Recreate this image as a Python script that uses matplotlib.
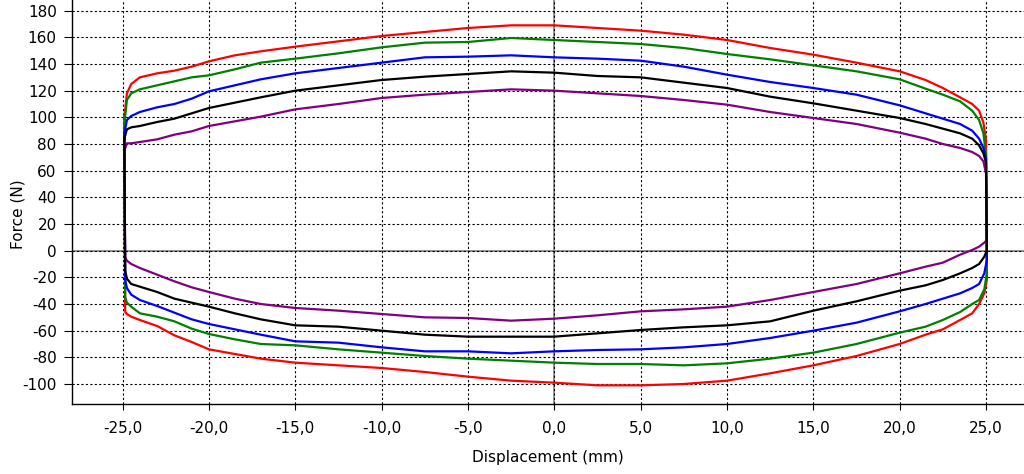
import numpy as np
from matplotlib import pyplot as plt

# displacement grid for the loading (upper) and unloading (lower) branches, mm
x_up = [-24.9, -24.75, -24.5, -24.0, -23.0, -22.0, -21.0, -20.0, -18.5, -17.0, -15.0,
        -12.5, -10.0, -7.5, -5.0, -2.5, 0.0, 2.5, 5.0, 7.5, 10.0, 12.5, 15.0, 17.5,
        20.0, 21.5, 22.5, 23.5, 24.2, 24.6, 24.85, 25.0]
x_down = [25.05, 24.9, 24.6, 24.2, 23.5, 22.5, 21.5, 20.0, 17.5, 15.0, 12.5, 10.0,
          7.5, 5.0, 2.5, 0.0, -2.5, -5.0, -7.5, -10.0, -12.5, -15.0, -17.0, -18.5,
          -20.0, -21.0, -22.0, -23.0, -24.0, -24.5, -24.75, -24.85]

# force (N)
red_up = [100, 118, 125, 130, 133, 135, 138, 142, 146.5, 149.5, 153, 157, 161, 164,
          167, 169, 169, 167, 165, 162, 158, 152, 147, 141, 134.5, 128, 122, 115,
          110, 105, 96, 83]
red_down = [-22, -32, -40, -47, -52, -59, -63, -70, -79, -86, -92, -97.5, -100, -101,
            -101, -99, -97.5, -94.5, -91, -88, -86, -84, -81, -77.5, -74, -68.5, -63.5,
            -56.5, -52, -49.5, -47.5, -46]

green_up = [95, 113, 118, 121, 124, 127, 130, 131.5, 136, 141, 144, 148, 152.5, 156,
            156.5, 159.5, 158, 156.5, 155, 152, 147.5, 143.5, 139, 134.5, 128.5, 121.5,
            117, 112, 105, 98, 88, 72]
green_down = [-17, -29, -37, -40, -46, -52, -57, -61.5, -70, -76.5, -81, -84.5, -86,
              -85, -85, -84, -82.5, -81, -79, -76.5, -74, -71, -70, -66.5, -62.5, -58.5,
              -53, -49.5, -47, -42, -39, -35]

blue_up = [88, 98, 101, 104, 107.5, 110, 114, 119.5, 124, 128.5, 133, 137, 141, 145,
           145.5, 146.5, 145, 144, 142.5, 138, 132, 126.5, 122, 117, 109, 103, 99, 95,
           90, 84, 77, 69]
blue_down = [-7, -17, -25, -28, -32, -36, -40, -45.5, -54, -60, -65.5, -70, -72.5,
             -74, -74.5, -75.5, -77, -75.5, -75.5, -72.5, -69, -68, -63, -59, -55,
             -51.5, -46.5, -41.5, -37, -33, -28, -22]

black_up = [84, 91, 92.5, 93.5, 96.5, 99, 103, 107, 111, 115, 120, 124, 128, 130.5,
            132.5, 134.5, 133.5, 131, 130, 126, 122, 115.5, 110.5, 105, 99.5, 95, 91.5,
            88, 84, 79, 73, 66]
black_down = [0, -4.5, -10, -13, -17, -22, -26, -30, -38, -45, -53, -56, -57.5, -59.5,
              -62, -64.5, -64.5, -64.5, -63, -60, -57, -56, -51.5, -47, -42, -39, -36,
              -31, -27, -25, -21, -15]

purple_up = [75, 80.5, 80.5, 81.5, 83.5, 87, 89.5, 93.5, 97, 100.5, 106, 110, 114.5,
             117, 119, 121, 120, 118, 116, 113, 109.5, 104, 99.5, 95, 88.5, 84, 80, 77,
             74, 71, 67, 58]
purple_down = [8, 6, 3, 0.5, -3, -9, -12, -17, -25, -31, -37, -42, -44, -45.5, -48.5,
               -51, -52.5, -50.5, -50, -47.5, -45, -43, -40, -36, -31, -27.5, -23, -18,
               -13, -10, -7.5, -5]

series = [
    (red_up, red_down, '#ff0000'),
    (green_up, green_down, '#008000'),
    (blue_up, blue_down, '#0000ff'),
    (purple_up, purple_down, '#800080'),
    (black_up, black_down, '#000000'),
]

x_ticks = np.arange(-25, 26, 5)
y_ticks = np.arange(-100, 181, 20)

plt.rcParams['font.family'] = 'DejaVu Sans'
plt.rcParams['font.size'] = 11
plt.rcParams['axes.unicode_minus'] = False

fig = plt.figure(figsize=(10.24, 4.74), dpi=100)
ax = fig.add_axes([72 / 1024, 70 / 474, 952 / 1024, 404 / 474])

ax.axhline(0, color='#808080', lw=1.2, zorder=1)
ax.axvline(0, color='#808080', lw=1.2, zorder=1)

for up, down, col in series:
    xs = list(x_up) + list(x_down) + [x_up[0]]
    ys = list(up) + list(down) + [up[0]]
    ax.plot(xs, ys, color=col, lw=1.6, zorder=3)

ax.set_xlim(-27.93, 27.2)
ax.set_ylim(-115, 188)
ax.set_xticks(x_ticks)
ax.set_xticklabels([f"{v:.1f}".replace('.', ',') for v in x_ticks])
ax.set_yticks(y_ticks)
ax.grid(True, color='black', linestyle=(0, (2, 2)), lw=0.8, zorder=0)

for side in ['top', 'right']:
    ax.spines[side].set_visible(False)
ax.spines['left'].set_linewidth(1.0)
ax.spines['bottom'].set_linewidth(1.0)
ax.tick_params(axis='x', length=4, width=0.8, pad=8)
ax.tick_params(axis='y', length=6, width=0.8, pad=5)

ax.set_xlabel('Displacement (mm)', labelpad=10.5)
ax.set_ylabel('Force (N)')
ax.yaxis.set_label_coords(-0.049, 0.47)

fig.savefig('out.png', dpi=100)
